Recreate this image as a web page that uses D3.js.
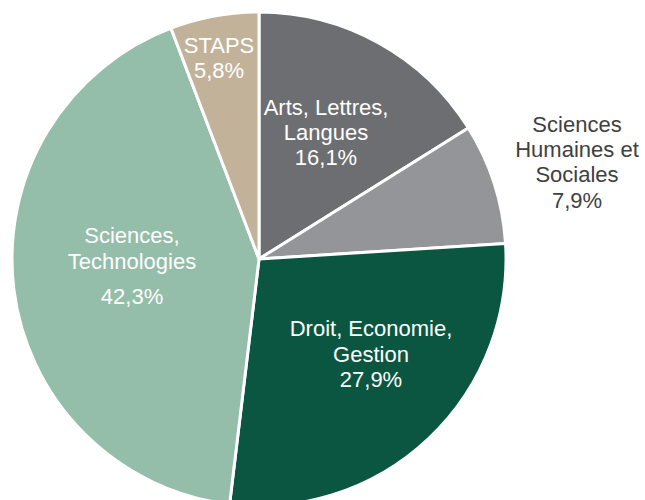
<!DOCTYPE html>
<html><head><meta charset="utf-8">
<script src="https://cdn.jsdelivr.net/npm/d3@7"></script>
<style>html,body{margin:0;padding:0;background:#fff;}svg{display:block;}</style>
</head><body>
<svg id="chart" width="645" height="500"></svg>
<script>
const categories = ["Arts, Lettres, Langues", "Sciences Humaines et Sociales", "Droit, Economie, Gestion", "Sciences, Technologies", "STAPS"];
const values = [16.1, 7.9, 27.9, 42.3, 5.8];
const labelLines = [
  ["Arts, Lettres,", "Langues", "16,1%"],
  ["Sciences", "Humaines et", "Sociales", "7,9%"],
  ["Droit, Economie,", "Gestion", "27,9%"],
  ["Sciences,", "Technologies", "42,3%"],
  ["STAPS", "5,8%"]
];
const colors = ["#6d6e71", "#939598", "#0a5640", "#94bdaa", "#c3b29a"];

// layout (not data)
const cx = 259, cy = 259, R = 247;
const labelAnchor = [[67, -144], [318, -127], [112, 77], [-127, -16], [-40, -206]]; // first-line baseline relative to centre
const lineGaps = [[25, 25], [25, 25, 26], [26, 25], [26, 35], [25]];
const textColors = ["#fff", "#404040", "#fff", "#fff", "#fff"];

const svg = d3.select("#chart");
const g = svg.append("g").attr("transform", `translate(${cx},${cy})`);
const pie = d3.pie().sort(null).value(d => d)(values);
const arc = d3.arc().innerRadius(0).outerRadius(R);

g.selectAll("path").data(pie).join("path")
  .attr("d", arc)
  .attr("fill", (d, i) => colors[i])
  .attr("stroke", "#fff")
  .attr("stroke-width", 3)
  .attr("stroke-linejoin", "round");

labelLines.forEach((lines, i) => {
  const t = g.append("text")
    .attr("text-anchor", "middle")
    .style("font-family", "'Liberation Sans', Arial, sans-serif")
    .style("font-size", "22px")
    .attr("fill", textColors[i]);
  let y = labelAnchor[i][1];
  lines.forEach((ln, j) => {
    if (j > 0) y += lineGaps[i][j - 1];
    t.append("tspan").attr("x", labelAnchor[i][0]).attr("y", y).text(ln);
  });
});
</script>
</body></html>
